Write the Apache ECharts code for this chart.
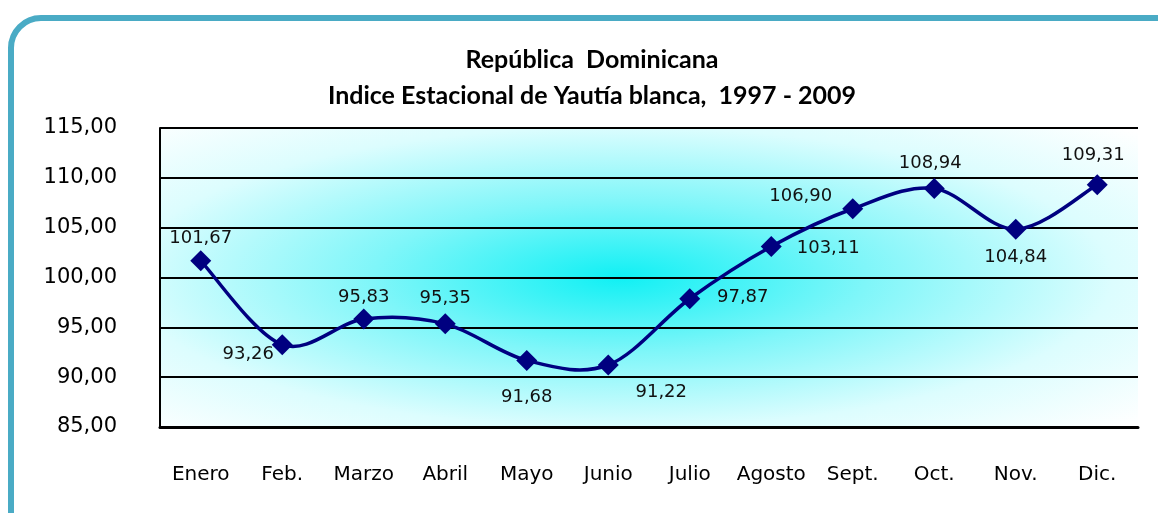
<!DOCTYPE html>
<html>
<head>
<meta charset="utf-8">
<script src="https://cdn.jsdelivr.net/npm/echarts@6/dist/echarts.min.js"></script>
<style>
  html, body { margin: 0; padding: 0; background: #fff; }
  #chart { width: 1158px; height: 513px; }
</style>
</head>
<body>
<div id="chart"></div>
<script>
// meses y valores del indice estacional
const months = ['Enero', 'Feb.', 'Marzo', 'Abril', 'Mayo', 'Junio', 'Julio', 'Agosto', 'Sept.', 'Oct.', 'Nov.', 'Dic.']
const indexValues = [101.67, 93.26, 95.83, 95.35, 91.68, 91.22, 97.87, 103.11, 106.90, 108.94, 104.84, 109.31]
const yTicks = [85, 90, 95, 100, 105, 110, 115]

// desplazamiento de cada etiqueta respecto a su punto (solo estilo)
const labelOffsets = [[0, -23], [-34, 10], [0, -22], [0, -26], [0, 37], [53, 27],
                      [53, -1], [57, 2], [-52, -12], [-4, -25], [0, 28], [-4, -29]]

const comma = v => v.toFixed(2).replace('.', ',')

const chart = echarts.init(document.getElementById('chart'))

const gridBox = { left: 160, top: 128, width: 978, height: 299 }

// curva suavizada tipo Excel (Catmull-Rom) sobre las coordenadas del eje
function renderCurve(params, api) {
  if (params.dataIndex !== 0) return null
  const pts = indexValues.map((v, i) => api.coord([i, v]))
  let d = 'M' + pts[0][0] + ' ' + pts[0][1]
  for (let i = 0; i < pts.length - 1; i++) {
    const p0 = pts[Math.max(i - 1, 0)]
    const p1 = pts[i]
    const p2 = pts[i + 1]
    const p3 = pts[Math.min(i + 2, pts.length - 1)]
    const c1 = [p1[0] + (p2[0] - p0[0]) / 6, p1[1] + (p2[1] - p0[1]) / 6]
    const c2 = [p2[0] - (p3[0] - p1[0]) / 6, p2[1] - (p3[1] - p1[1]) / 6]
    d += ' C' + c1[0] + ' ' + c1[1] + ' ' + c2[0] + ' ' + c2[1] + ' ' + p2[0] + ' ' + p2[1]
  }
  return {
    type: 'path',
    shape: { pathData: d },
    style: { fill: 'none', stroke: '#000080', lineWidth: 3.5 }
  }
}

const option = {
  animation: false,
  title: {
    text: 'República  Dominicana\nIndice Estacional de Yautía blanca,  1997 - 2009',
    left: 587,
    textAlign: 'center',
    top: 37,
    textStyle: {
      fontFamily: 'Lato',
      fontWeight: 'bold',
      fontSize: 25,
      lineHeight: 36,
      color: '#000'
    }
  },
  graphic: [
    {
      // fondo degradado radial del area de trazado
      type: 'rect',
      z: -10,
      x: gridBox.left,
      y: gridBox.top,
      scaleX: gridBox.width / gridBox.height,
      shape: { x: 0, y: 0, width: gridBox.height, height: gridBox.height },
      style: {
        fill: new echarts.graphic.RadialGradient(0.47, 0.5, 0.72, [
          { offset: 0, color: '#10f0f4' },
          { offset: 0.35, color: '#7ff6f9' },
          { offset: 0.7, color: '#dcfdfe' },
          { offset: 1, color: '#ffffff' }
        ])
      },
      silent: true
    },
    {
      // marco redondeado
      type: 'rect',
      z: 100,
      shape: { x: 11, y: 18, width: 1175, height: 530, r: 30 },
      style: { fill: 'none', stroke: '#4aabc5', lineWidth: 6 },
      silent: true
    }
  ],
  grid: {
    left: gridBox.left,
    top: gridBox.top,
    right: 1158 - gridBox.left - gridBox.width,
    bottom: 513 - gridBox.top - gridBox.height
  },
  xAxis: {
    type: 'category',
    data: months,
    boundaryGap: true,
    axisLine: { lineStyle: { color: '#000', width: 3 } },
    axisTick: { show: false },
    axisLabel: {
      interval: 0,
      margin: 38,
      fontFamily: 'DejaVu Sans',
      fontSize: 20,
      color: '#000'
    }
  },
  yAxis: {
    type: 'value',
    min: yTicks[0],
    max: yTicks[yTicks.length - 1],
    interval: 5,
    axisLine: { show: true, lineStyle: { color: '#000', width: 2 } },
    axisTick: { show: false },
    splitLine: { lineStyle: { color: '#000', width: 2 } },
    axisLabel: {
      margin: 43,
      padding: [6, 0, 0, 0],
      fontFamily: 'DejaVu Sans',
      fontSize: 21,
      color: '#000',
      formatter: comma
    }
  },
  series: [
    {
      type: 'custom',
      z: 2,
      renderItem: renderCurve,
      data: indexValues.map((v, i) => [i, v]),
      encode: { x: 0, y: 1 },
      silent: true
    },
    {
      type: 'line',
      z: 3,
      data: indexValues.map((v, i) => ({
        value: v,
        label: { offset: labelOffsets[i] }
      })),
      symbol: 'diamond',
      symbolSize: 21,
      itemStyle: { color: '#000080' },
      lineStyle: { width: 0, opacity: 0 },
      label: {
        show: true,
        position: 'inside',
        fontFamily: 'DejaVu Sans',
        fontSize: 18,
        color: '#111',
        formatter: p => comma(p.value)
      }
    }
  ]
}

chart.setOption(option)
</script>
</body>
</html>
